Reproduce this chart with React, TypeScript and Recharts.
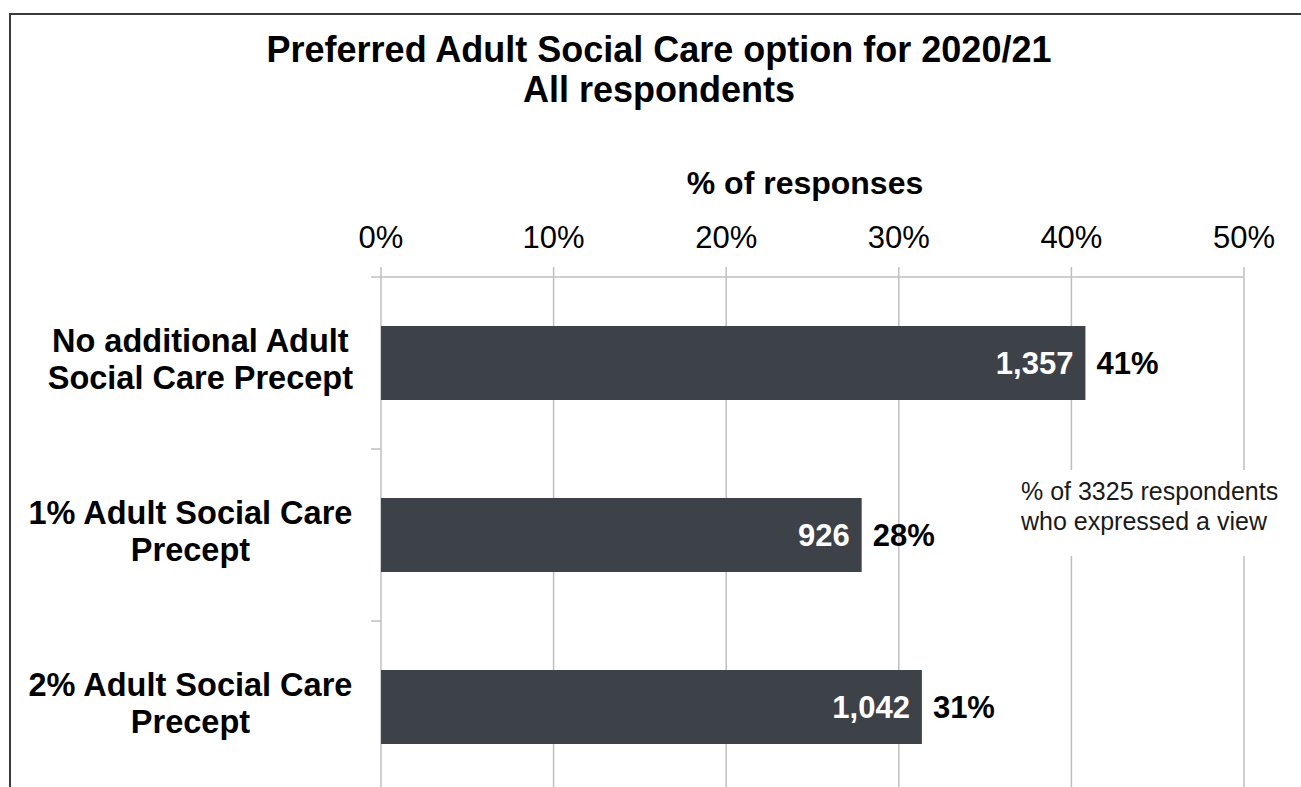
import { BarChart, Bar, XAxis, YAxis, CartesianGrid, LabelList } from 'recharts';

const OPTION_LINES = [
  ['No additional Adult', 'Social Care Precept'],
  ['1% Adult Social Care', 'Precept'],
  ['2% Adult Social Care', 'Precept'],
];
const RESPONSES = [1357, 926, 1042];
const TOTAL_RESPONDENTS = 3325;
const PCT_TICKS = [0, 10, 20, 30, 40, 50];

const FONT = '"Liberation Sans", Arial, Helvetica, sans-serif';
const BAR_COLOR = '#3d4148';
const GRID = '#bfbfbf';
const CAT_FONT_SIZE = 32.5;
const EDGE_TICK = 10;

const data = OPTION_LINES.map((lines, i) => ({
  option: lines.join(' '),
  count: RESPONSES[i],
  pct: (RESPONSES[i] / TOTAL_RESPONDENTS) * 100,
}));

const linesByOption = new Map(OPTION_LINES.map((l) => [l.join(' '), l]));

let measureCtx: CanvasRenderingContext2D | null = null;
function textWidth(s: string, font: string): number {
  if (!measureCtx) measureCtx = document.createElement('canvas').getContext('2d');
  if (!measureCtx) return s.length * 16;
  measureCtx.font = font;
  return measureCtx.measureText(s).width;
}

// Excel-style category tick: wrapped label block right-aligned to the axis,
// lines centred in the block, and small tick marks on the band edges
function CategoryTick(props: any) {
  const { x, y, payload, index, height, visibleTicksCount } = props;
  const lines = linesByOption.get(payload.value) ?? [String(payload.value)];
  const font = `bold ${CAT_FONT_SIZE}px ${FONT}`;
  const blockW = Math.max(...lines.map((l) => textWidth(l, font)));
  const cx = x - 28 - blockW / 2;
  const band = height && visibleTicksCount ? height / visibleTicksCount : 172;
  const edges = [y - band / 2];
  if (index === visibleTicksCount - 1) edges.push(y + band / 2);
  return (
    <g>
      {edges.map((ey, i) => (
        <line
          key={`e${i}`}
          x1={x - EDGE_TICK}
          x2={x}
          y1={ey}
          y2={ey}
          stroke={GRID}
          strokeWidth={1.5}
        />
      ))}
      {lines.map((line, i) => (
        <text
          key={i}
          x={cx}
          y={y - 11 + i * 37}
          textAnchor="middle"
          fontFamily={FONT}
          fontWeight="bold"
          fontSize={CAT_FONT_SIZE}
          fill="#000"
        >
          {line}
        </text>
      ))}
    </g>
  );
}

export default function App() {
  return (
    <div
      style={{
        position: 'fixed',
        left: 0,
        top: 0,
        width: 1301,
        height: 787,
        overflow: 'hidden',
        background: '#fff',
        fontFamily: FONT,
      }}
    >
      <div
        style={{
          position: 'absolute',
          left: 9,
          top: 13,
          width: 1400,
          height: 900,
          borderLeft: '2px solid #3a3a3a',
          borderTop: '2px solid #3a3a3a',
        }}
      />
      <div style={{ position: 'absolute', left: 0, top: 0 }}>
        <BarChart
          width={1301}
          height={800}
          data={data}
          layout="vertical"
          margin={{ top: 197, right: 57, bottom: 7, left: 10 }}
        >
          <CartesianGrid stroke={GRID} strokeWidth={1.5} horizontal={false} />
          <XAxis
            type="number"
            orientation="top"
            domain={[0, 50]}
            ticks={PCT_TICKS}
            tickFormatter={(v) => `${v}%`}
            height={80}
            tickSize={10}
            tickMargin={19}
            axisLine={{ stroke: GRID, strokeWidth: 1.5 }}
            tickLine={{ stroke: GRID, strokeWidth: 1.5 }}
            tick={{ fontSize: 31, fill: '#000', fontFamily: FONT }}
          />
          <YAxis
            type="category"
            dataKey="option"
            width={371}
            tickSize={0}
            tickMargin={0}
            tickLine={false}
            axisLine={false}
            tick={<CategoryTick />}
          />
          <Bar dataKey="pct" fill={BAR_COLOR} barSize={74} isAnimationActive={false}>
            <LabelList
              dataKey="count"
              position="insideRight"
              offset={12}
              formatter={(v: any) => Number(v).toLocaleString('en-GB')}
              fill="#fff"
              fontSize={31}
              fontWeight="bold"
              fontFamily={FONT}
            />
            <LabelList
              dataKey="pct"
              position="right"
              offset={11}
              formatter={(v: any) => `${Math.round(Number(v))}%`}
              fill="#000"
              fontSize={31}
              fontWeight="bold"
              fontFamily={FONT}
            />
          </Bar>
        </BarChart>
      </div>
      <svg
        width={1301}
        height={787}
        style={{ position: 'absolute', left: 0, top: 0, pointerEvents: 'none' }}
      >
        <g fontFamily={FONT} fill="#000">
          <text x={659} y={62} textAnchor="middle" fontSize={36} fontWeight="bold">
            Preferred Adult Social Care option for 2020/21
          </text>
          <text x={659} y={102} textAnchor="middle" fontSize={36} fontWeight="bold">
            All respondents
          </text>
          <text x={805} y={194} textAnchor="middle" fontSize={32} fontWeight="bold">
            % of responses
          </text>
          <rect x={1012} y={470} width={280} height={86} fill="#fff" />
          <text x={1021} y={500} fontSize={25} fill="#1a1a1a">
            % of 3325 respondents
          </text>
          <text x={1021} y={530} fontSize={25} fill="#1a1a1a">
            who expressed a view
          </text>
        </g>
      </svg>
    </div>
  );
}
